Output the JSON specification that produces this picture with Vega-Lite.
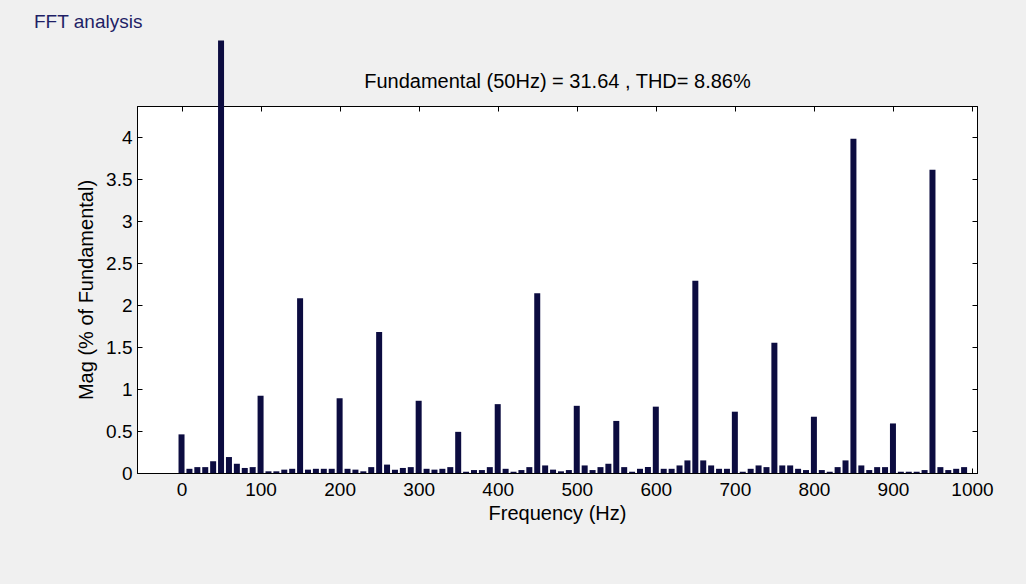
{
  "$schema": "https://vega.github.io/schema/vega-lite/v6.json",
  "autosize": "none",
  "width": 840,
  "height": 367,
  "padding": {"left": 137, "top": 106, "right": 49, "bottom": 111},
  "background": "#f0f0f0",
  "view": {"fill": "white", "stroke": "black", "strokeWidth": 1},
  "config": {
    "font": "Liberation Sans",
    "axis": {"grid": false, "domainColor": "black", "tickColor": "black", "labelColor": "black", "titleColor": "black", "labelFontSize": 19, "titleFontSize": 20, "titleFontWeight": "normal", "tickSize": -5}
  },
  "title": {"text": "FFT analysis", "anchor": "start", "frame": "group", "dx": -103, "offset": 8, "fontSize": 19, "fontWeight": "normal", "color": "#1f1f66"},
  "data": {"values": [
    {"f": 0, "mag": 0.46}, {"f": 10, "mag": 0.05}, {"f": 20, "mag": 0.07}, {"f": 30, "mag": 0.07}, {"f": 40, "mag": 0.14},
    {"f": 50, "mag": 5.15}, {"f": 60, "mag": 0.19}, {"f": 70, "mag": 0.11}, {"f": 80, "mag": 0.06}, {"f": 90, "mag": 0.07},
    {"f": 100, "mag": 0.92}, {"f": 110, "mag": 0.02}, {"f": 120, "mag": 0.02}, {"f": 130, "mag": 0.04}, {"f": 140, "mag": 0.05},
    {"f": 150, "mag": 2.08}, {"f": 160, "mag": 0.04}, {"f": 170, "mag": 0.05}, {"f": 180, "mag": 0.05}, {"f": 190, "mag": 0.05},
    {"f": 200, "mag": 0.89}, {"f": 210, "mag": 0.05}, {"f": 220, "mag": 0.04}, {"f": 230, "mag": 0.02}, {"f": 240, "mag": 0.07},
    {"f": 250, "mag": 1.68}, {"f": 260, "mag": 0.1}, {"f": 270, "mag": 0.04}, {"f": 280, "mag": 0.06}, {"f": 290, "mag": 0.07},
    {"f": 300, "mag": 0.86}, {"f": 310, "mag": 0.05}, {"f": 320, "mag": 0.04}, {"f": 330, "mag": 0.05}, {"f": 340, "mag": 0.07},
    {"f": 350, "mag": 0.49}, {"f": 360, "mag": 0.015}, {"f": 370, "mag": 0.035}, {"f": 380, "mag": 0.035}, {"f": 390, "mag": 0.07},
    {"f": 400, "mag": 0.82}, {"f": 410, "mag": 0.05}, {"f": 420, "mag": 0.015}, {"f": 430, "mag": 0.035}, {"f": 440, "mag": 0.07},
    {"f": 450, "mag": 2.14}, {"f": 460, "mag": 0.09}, {"f": 470, "mag": 0.04}, {"f": 480, "mag": 0.02}, {"f": 490, "mag": 0.035},
    {"f": 500, "mag": 0.8}, {"f": 510, "mag": 0.09}, {"f": 520, "mag": 0.035}, {"f": 530, "mag": 0.07}, {"f": 540, "mag": 0.11},
    {"f": 550, "mag": 0.62}, {"f": 560, "mag": 0.07}, {"f": 570, "mag": 0.015}, {"f": 580, "mag": 0.05}, {"f": 590, "mag": 0.07},
    {"f": 600, "mag": 0.79}, {"f": 610, "mag": 0.05}, {"f": 620, "mag": 0.05}, {"f": 630, "mag": 0.09}, {"f": 640, "mag": 0.15},
    {"f": 650, "mag": 2.29}, {"f": 660, "mag": 0.15}, {"f": 670, "mag": 0.09}, {"f": 680, "mag": 0.05}, {"f": 690, "mag": 0.05},
    {"f": 700, "mag": 0.73}, {"f": 710, "mag": 0.015}, {"f": 720, "mag": 0.05}, {"f": 730, "mag": 0.09}, {"f": 740, "mag": 0.07},
    {"f": 750, "mag": 1.55}, {"f": 760, "mag": 0.09}, {"f": 770, "mag": 0.09}, {"f": 780, "mag": 0.05}, {"f": 790, "mag": 0.035},
    {"f": 800, "mag": 0.67}, {"f": 810, "mag": 0.035}, {"f": 820, "mag": 0.015}, {"f": 830, "mag": 0.07}, {"f": 840, "mag": 0.15},
    {"f": 850, "mag": 3.98}, {"f": 860, "mag": 0.09}, {"f": 870, "mag": 0.035}, {"f": 880, "mag": 0.07}, {"f": 890, "mag": 0.07},
    {"f": 900, "mag": 0.59}, {"f": 910, "mag": 0.015}, {"f": 920, "mag": 0.015}, {"f": 930, "mag": 0.015}, {"f": 940, "mag": 0.035},
    {"f": 950, "mag": 3.61}, {"f": 960, "mag": 0.07}, {"f": 970, "mag": 0.035}, {"f": 980, "mag": 0.05}, {"f": 990, "mag": 0.07}
  ]},
  "resolve": {"axis": {"x": "independent", "y": "independent"}},
  "layer": [
    {
      "mark": {"type": "bar", "width": 6, "color": "#0c0c40", "clip": false},
      "encoding": {
        "x": {"field": "f", "type": "quantitative", "scale": {"domain": [-50, 1000], "nice": false, "zero": false},
              "axis": {"orient": "bottom", "values": [0, 100, 200, 300, 400, 500, 600, 700, 800, 900, 1000], "format": "d", "labelPadding": 12, "title": "Frequency (Hz)", "titlePadding": 4}},
        "y": {"field": "mag", "type": "quantitative", "scale": {"domain": [0, 4.37], "nice": false},
              "axis": {"orient": "left", "values": [0, 0.5, 1, 1.5, 2, 2.5, 3, 3.5, 4], "format": "~g", "labelPadding": 10, "title": "Mag (% of Fundamental)", "titlePadding": 9}}
      }
    },
    {
      "mark": {"type": "bar", "width": 6, "opacity": 0},
      "encoding": {
        "x": {"field": "f", "type": "quantitative",
              "axis": {"orient": "top", "values": [0, 100, 200, 300, 400, 500, 600, 700, 800, 900, 1000], "labels": false, "title": "Fundamental (50Hz) = 31.64 , THD= 8.86%", "titlePadding": 14}},
        "y": {"field": "mag", "type": "quantitative",
              "axis": {"orient": "right", "values": [0, 0.5, 1, 1.5, 2, 2.5, 3, 3.5, 4], "labels": false, "title": null}}
      }
    }
  ]
}
